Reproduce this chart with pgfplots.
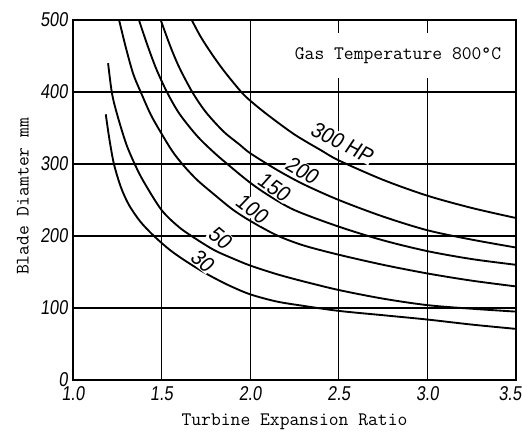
\documentclass[border=0pt]{standalone}
\usepackage{fontspec}
\usepackage{pgfplots}
\pgfplotsset{compat=1.18}
\newfontfamily\numfont[FakeStretch=0.82,FakeSlant=0.12]{Liberation Sans}
\newfontfamily\curvefont[FakeStretch=0.9,FakeSlant=0.12]{Liberation Sans}
\newcommand\tickfont{\numfont\fontsize{15pt}{15pt}\selectfont}
\newcommand\hpfont{\curvefont\fontsize{16.5pt}{16.5pt}\selectfont}
\newcommand\labfont{\ttfamily\fontsize{14.3pt}{16pt}\selectfont}

\pgfplotsset{
  hpcurve/.style={black, solid, line width=1.4pt, smooth, mark=none},
}
\tikzset{
  hplabel/.style={font=\hpfont, fill=white, inner sep=0.5pt},
}

\begin{document}
\begin{tikzpicture}
\begin{axis}[
  scale only axis, width=332.25pt, height=270pt,
  xmin=1, xmax=3.5, ymin=0, ymax=500,
  xtick={1,1.5,2,2.5,3,3.5},
  xticklabels={1.0,1.5,2.0,2.5,3.0,{\makebox[0pt]{3.5}\kern9pt}},
  ytick={0,100,200,300,400,500},
  yticklabels={0,100,200,300,400,500},
  major tick length=0pt,
  grid=major,
  major grid style={black, line width=0.9pt},
  axis line style={line width=1.3pt},
  tick label style={font=\tickfont},
  xticklabel style={anchor=north, inner sep=0pt, yshift=-5pt},
  yticklabel style={anchor=east, inner sep=0pt, xshift=-3.75pt},
  xlabel={Turbine Expansion Ratio},
  ylabel={Blade Diamter mm},
  label style={font=\labfont},
  xlabel style={at={(axis description cs:0.5,-0.117)}, anchor=center},
  ylabel style={at={(axis description cs:-0.113,0.51)}, anchor=center},
]
% 300 HP
\addplot[hpcurve] coordinates {(1.67,500) (1.72,477) (1.78,454) (1.85,430) (1.946,401) (2.0,388) (2.1,368) (2.25,341) (2.4,319) (2.5,305) (2.75,278) (3.0,256) (3.25,239) (3.5,225)};
% 200 HP
\addplot[hpcurve] coordinates {(1.495,500) (1.55,463) (1.6,434) (1.673,400) (1.75,372) (1.85,345) (1.94,327) (2.0,315) (2.15,292) (2.3,272) (2.5,250) (2.75,227) (3.0,208) (3.25,195) (3.5,184)};
% 150 HP
\addplot[hpcurve] coordinates {(1.372,500) (1.42,465) (1.47,432) (1.53,400) (1.6,370) (1.7,339) (1.8,315) (1.9,294) (2.0,274) (2.1,257) (2.25,236) (2.5,213) (2.75,194) (3.0,179) (3.25,168) (3.5,160)};
% 100 HP
\addplot[hpcurve] coordinates {(1.26,500) (1.3,460) (1.34,425) (1.382,400) (1.44,368) (1.5,342) (1.56,318) (1.62,299) (1.7,278) (1.8,257) (1.9,237) (2.0,221) (2.15,201) (2.3,187) (2.5,174) (2.75,160) (3.0,148) (3.25,138) (3.5,130)};
% 50 HP
\addplot[hpcurve] coordinates {(1.198,440) (1.22,398) (1.25,368) (1.3,328) (1.35,299) (1.4,275) (1.5,236) (1.6,212) (1.7,195) (1.8,180) (1.9,169) (2.0,159) (2.15,147) (2.3,137) (2.5,125) (2.75,113) (3.0,104) (3.25,99) (3.5,95)};
% 30 HP
\addplot[hpcurve] coordinates {(1.185,369) (1.205,335) (1.231,300) (1.27,268) (1.316,243) (1.38,220) (1.457,200) (1.55,180) (1.65,163) (1.75,148) (1.875,132) (2.0,119) (2.15,109) (2.3,103) (2.5,96) (2.75,90) (3.0,84) (3.25,77) (3.5,71)};

% curve labels
\node[hplabel, rotate=-27] at (axis cs:2.518,330) {300 HP};
\node[hplabel, rotate=-31] at (axis cs:2.292,291) {200};
\node[hplabel, rotate=-35] at (axis cs:2.134,268) {150};
\node[hplabel, rotate=-37] at (axis cs:2.01,238) {100};
\node[hplabel, rotate=-40] at (axis cs:1.83,198) {50};
\node[hplabel, rotate=-40] at (axis cs:1.73,166) {30};

\node[font=\labfont, fill=white, inner xsep=3pt, inner ysep=11pt] at (axis cs:2.834,451) {Gas Temperature 800\textdegree C};

\coordinate (bl) at (rel axis cs:-0.1648,-0.15);
\coordinate (tr) at (rel axis cs:1.0135,1.0556);
\end{axis}
\pgfresetboundingbox
\useasboundingbox (bl) rectangle (tr);
\end{tikzpicture}
\end{document}
